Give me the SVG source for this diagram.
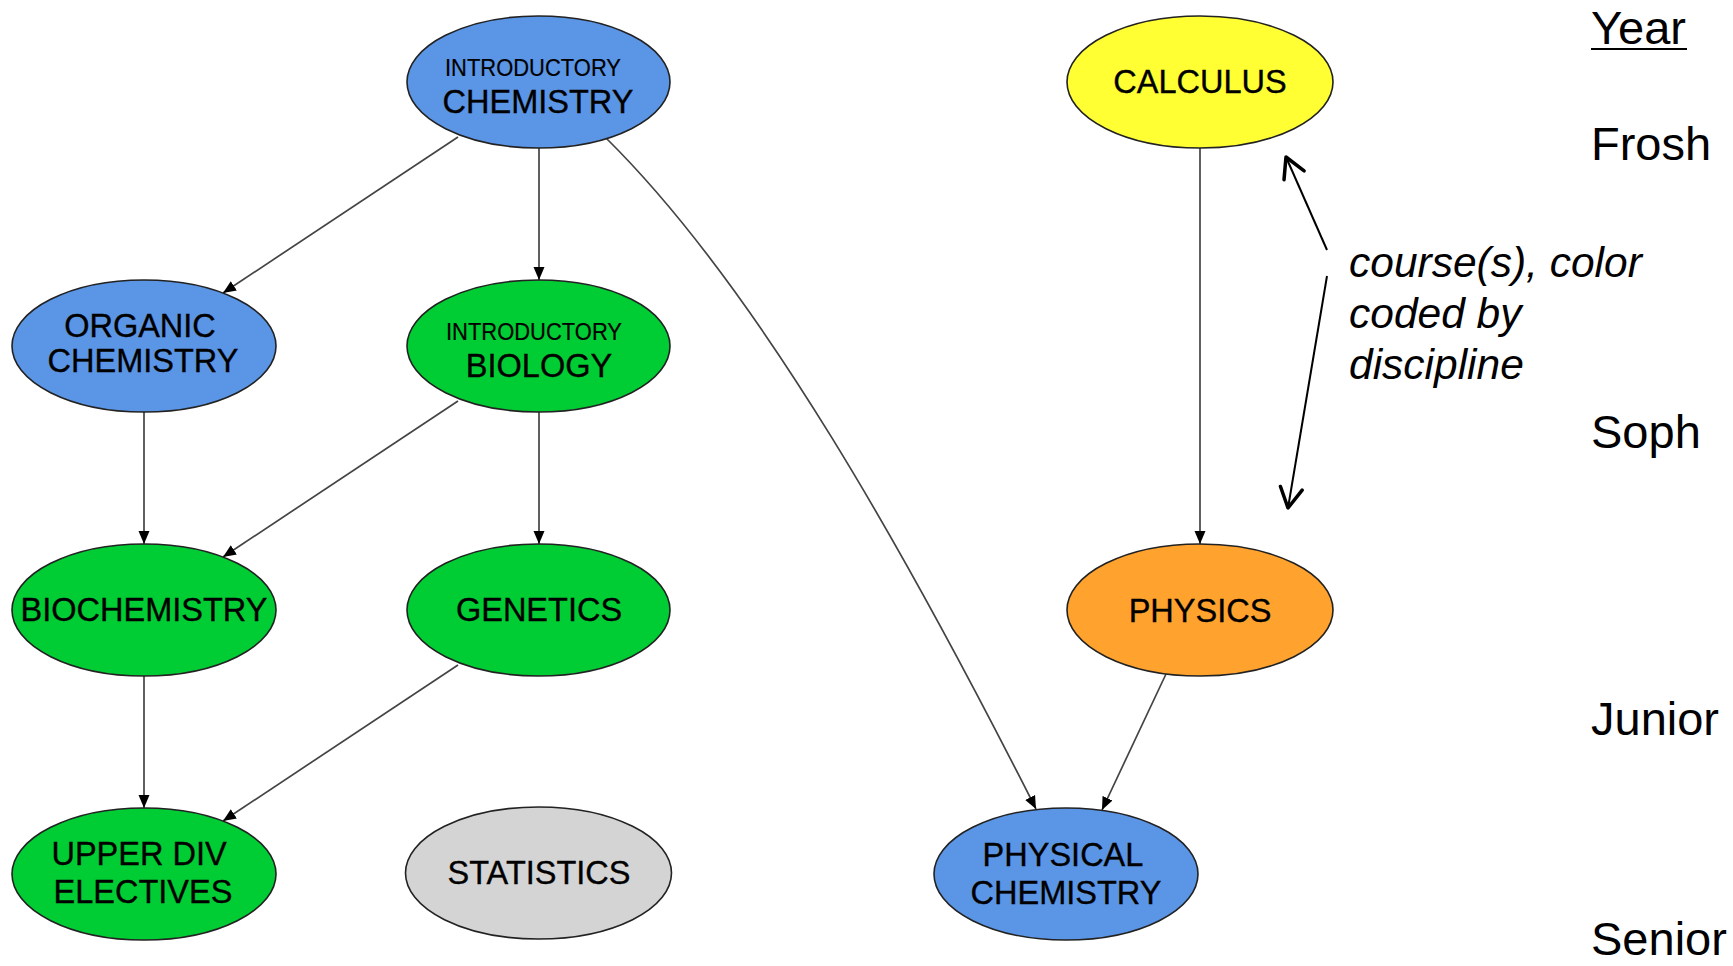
<svg xmlns="http://www.w3.org/2000/svg" width="1733" height="966" viewBox="0 0 1733 966">
<style>
.n{stroke:#222;stroke-width:1.6}
.blue{fill:#5B95E5}
.green{fill:#00CC33}
.yellow{fill:#FFFF33}
.orange{fill:#FFA22E}
.gray{fill:#D4D4D4}
.t{font-family:"Liberation Sans",Arial,sans-serif;font-size:32.5px;fill:#000;stroke:#000;stroke-width:0.35;text-anchor:middle}
.s{font-family:"Liberation Sans",Arial,sans-serif;font-size:24px;fill:#000;stroke:#000;stroke-width:0.2;text-anchor:middle}
.e{fill:none;stroke:#444;stroke-width:1.7}
.lg{fill:none;stroke:#000;stroke-width:2}
.yr{font-family:"Liberation Sans",Arial,sans-serif;font-size:47px;fill:#000}
.it{font-family:"Liberation Sans",Arial,sans-serif;font-size:42.5px;font-style:italic;fill:#000}
</style>
<defs>
<marker id="ah" markerUnits="userSpaceOnUse" markerWidth="14" markerHeight="12" viewBox="-13 -6 14 12" refX="0" refY="0" orient="auto">
<path d="M-13,-5.5 L0,0 L-13,5.5 Z" fill="#000"/>
</marker>
<marker id="open" markerUnits="userSpaceOnUse" markerWidth="30" markerHeight="30" viewBox="-24 -15 28 30" refX="0" refY="0" orient="auto">
<path d="M-20,-11 L0,0 L-20,11" fill="none" stroke="#000" stroke-width="3.5" stroke-linecap="round" stroke-linejoin="round"/>
</marker>
</defs>
<g id="connectors">
<line class="e" x1="458" y1="137" x2="223" y2="293" marker-end="url(#ah)"/>
<line class="e" x1="539" y1="147" x2="539" y2="280" marker-end="url(#ah)"/>
<path class="e" d="M606,138 C760,290 910,560 1036,809" marker-end="url(#ah)"/>
<line class="e" x1="144" y1="412" x2="144" y2="544" marker-end="url(#ah)"/>
<line class="e" x1="458" y1="401" x2="223" y2="557" marker-end="url(#ah)"/>
<line class="e" x1="539" y1="412" x2="539" y2="544" marker-end="url(#ah)"/>
<line class="e" x1="144" y1="676" x2="144" y2="808" marker-end="url(#ah)"/>
<line class="e" x1="458" y1="665" x2="223" y2="821" marker-end="url(#ah)"/>
<line class="e" x1="1200" y1="148" x2="1200" y2="544" marker-end="url(#ah)"/>
<line class="e" x1="1166" y1="674" x2="1102" y2="810" marker-end="url(#ah)"/>
</g>
<g id="intro-chem"><ellipse class="n blue" cx="538.5" cy="82" rx="131.5" ry="66"/><text class="s" x="533" y="76" textLength="176" lengthAdjust="spacingAndGlyphs">INTRODUCTORY</text><text class="t" x="538" y="113">CHEMISTRY</text></g>
<g id="calculus"><ellipse class="n yellow" cx="1200" cy="82" rx="133" ry="66"/><text class="t" x="1200" y="93">CALCULUS</text></g>
<g id="organic-chem"><ellipse class="n blue" cx="144" cy="346" rx="132" ry="66"/><text class="t" x="140" y="337">ORGANIC</text><text class="t" x="143" y="372">CHEMISTRY</text></g>
<g id="intro-bio"><ellipse class="n green" cx="538.5" cy="346" rx="131.5" ry="66"/><text class="s" x="534" y="340" textLength="176" lengthAdjust="spacingAndGlyphs">INTRODUCTORY</text><text class="t" x="539" y="377">BIOLOGY</text></g>
<g id="biochemistry"><ellipse class="n green" cx="144" cy="610" rx="132" ry="66"/><text class="t" x="144" y="621">BIOCHEMISTRY</text></g>
<g id="genetics"><ellipse class="n green" cx="538.5" cy="610" rx="131.5" ry="66"/><text class="t" x="539" y="621">GENETICS</text></g>
<g id="physics"><ellipse class="n orange" cx="1200" cy="610" rx="133" ry="66"/><text class="t" x="1200" y="622">PHYSICS</text></g>
<g id="upper-div"><ellipse class="n green" cx="144" cy="874" rx="132" ry="66"/><text class="t" x="139" y="865">UPPER DIV</text><text class="t" x="143" y="903">ELECTIVES</text></g>
<g id="statistics"><ellipse class="n gray" cx="538.5" cy="873" rx="133" ry="66"/><text class="t" x="539" y="884">STATISTICS</text></g>
<g id="physical-chem"><ellipse class="n blue" cx="1066" cy="874" rx="132" ry="66"/><text class="t" x="1063" y="866">PHYSICAL</text><text class="t" x="1066" y="904">CHEMISTRY</text></g>
<g id="legend">
<line class="lg" x1="1327" y1="250" x2="1286" y2="157" marker-end="url(#open)"/>
<line class="lg" x1="1327" y1="276" x2="1288" y2="508" marker-end="url(#open)"/>
<text class="it" x="1349" y="277">course(s), color</text>
<text class="it" x="1349" y="328">coded by</text>
<text class="it" x="1349" y="379">discipline</text>
</g>
<g id="years">
<text class="yr" x="1591" y="44">Year</text>
<line x1="1591" y1="49" x2="1687" y2="49" stroke="#000" stroke-width="2.2"/>
<text class="yr" x="1591" y="160">Frosh</text>
<text class="yr" x="1591" y="448">Soph</text>
<text class="yr" x="1591" y="735">Junior</text>
<text class="yr" x="1591" y="955">Senior</text>
</g>
</svg>
